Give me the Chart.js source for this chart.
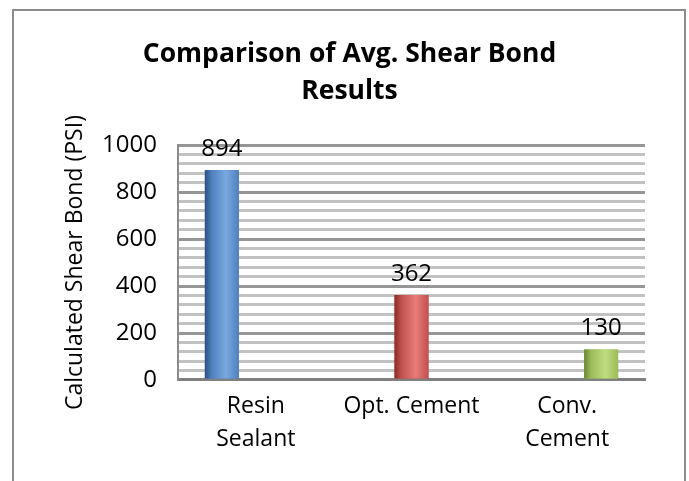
<!DOCTYPE html>
<html>
<head>
<meta charset="utf-8">
<script src="https://cdn.jsdelivr.net/npm/chart.js@4"></script>
<style>
    body { margin: 0; background: #fff; overflow: hidden; }
    #wrap { position: relative; width: 689px; height: 481px; }
    #frame {
        position: absolute; left: 12px; top: 9px; width: 670px; height: 520px;
        border: 2px solid #8c8c8c; pointer-events: none;
    }
</style>
</head>
<body>
<div id="wrap">
    <canvas id="chart" width="689" height="481"></canvas>
    <div id="frame"></div>
</div>
<script>
// data
const categories = [['Resin', 'Sealant'], 'Opt. Cement', ['Conv.', 'Cement']];
const seriesNames = ['Resin Sealant', 'Opt. Cement', 'Conv. Cement'];
const shearBond = [894, 362, 130];
const yMax = 1000;
const yMajor = 200;
const yMinor = 40;

// cylinder colours per series: dark edge, base, highlight
const barColors = [
    ['#2a4f80', '#4f81bd', '#7aa8e0'],
    ['#872b28', '#c0504d', '#e87b77'],
    ['#6a8632', '#9bbb59', '#c0dc80']
];

const font = 'Open Sans';

// each series only fills its own category (excel-style grouped bars)
const datasets = seriesNames.map((name, i) => ({
    label: name,
    data: categories.map((c, j) => (j === i ? shearBond[i] : null)),
    backgroundColor: barColors[i][1],
    borderWidth: 0,
    categoryPercentage: 0.655,
    barPercentage: 1
}));

// cylinder shading drawn over each bar
const cylinderShade = {
    id: 'cylinderShade',
    afterDatasetsDraw(chart) {
        const ctx = chart.ctx;
        chart.data.datasets.forEach((ds, i) => {
            const c = barColors[i];
            chart.getDatasetMeta(i).data.forEach((bar, j) => {
                if (ds.data[j] == null) return;
                const left = bar.x - bar.width / 2;
                const g = ctx.createLinearGradient(left, 0, left + bar.width, 0);
                g.addColorStop(0, c[0]);
                g.addColorStop(0.2, c[1]);
                g.addColorStop(0.62, c[2]);
                g.addColorStop(1, c[1]);
                ctx.save();
                ctx.fillStyle = g;
                ctx.fillRect(left, bar.y, bar.width, bar.base - bar.y);
                ctx.restore();
            });
        });
    }
};

// value labels above the bars
const valueLabels = {
    id: 'valueLabels',
    afterDatasetsDraw(chart) {
        const ctx = chart.ctx;
        ctx.save();
        ctx.font = '24px "' + font + '"';
        ctx.fillStyle = '#000';
        ctx.textAlign = 'center';
        ctx.textBaseline = 'middle';
        chart.data.datasets.forEach((ds, i) => {
            chart.getDatasetMeta(i).data.forEach((bar, j) => {
                if (ds.data[j] == null) return;
                ctx.fillText(ds.data[j], bar.x, bar.y - 21);
            });
        });
        ctx.restore();
    }
};

new Chart(document.getElementById('chart'), {
    type: 'bar',
    data: { labels: categories, datasets: datasets },
    options: {
        responsive: false,
        animation: false,
        layout: { padding: { top: 10, left: 20, right: 10, bottom: 23 } },
        plugins: {
            legend: { display: false },
            tooltip: { enabled: false },
            title: {
                display: true,
                text: ['Comparison of Avg. Shear Bond', 'Results'],
                color: '#000',
                font: { family: font, size: 26.5, weight: 'bold', lineHeight: 1.4 },
                padding: { top: 26, bottom: 35 }
            }
        },
        scales: {
            x: {
                grid: { display: false },
                border: { color: '#808080', width: 3 },
                ticks: {
                    color: '#000',
                    padding: 2,
                    maxRotation: 0,
                    font: { family: font, size: 23, lineHeight: 1.435 }
                }
            },
            y: {
                min: 0,
                max: yMax,
                afterFit(scale) { scale.width = 158; },
                grid: {
                    drawTicks: false,
                    lineWidth: 3,
                    color: (c) => (c.tick.value % yMajor === 0 ? '#969696' : '#c2c2c2')
                },
                border: { color: '#8c8c8c', width: 2 },
                ticks: {
                    stepSize: yMinor,
                    autoSkip: false,
                    padding: 21,
                    color: '#000',
                    font: { family: font, size: 24 },
                    callback: (v) => (v % yMajor === 0 ? v : '')
                },
                title: {
                    display: true,
                    text: 'Calculated Shear Bond (PSI)',
                    color: '#000',
                    font: { family: font, size: 23 },
                    padding: { top: 42, bottom: 0 }
                }
            },
            // empty right-hand spacer so the title centres on the whole frame
            y2: {
                position: 'right',
                afterFit(scale) { scale.width = 34; },
                grid: { display: false },
                border: { display: false },
                ticks: { display: false }
            }
        }
    },
    plugins: [cylinderShade, valueLabels]
});
</script>
</body>
</html>
